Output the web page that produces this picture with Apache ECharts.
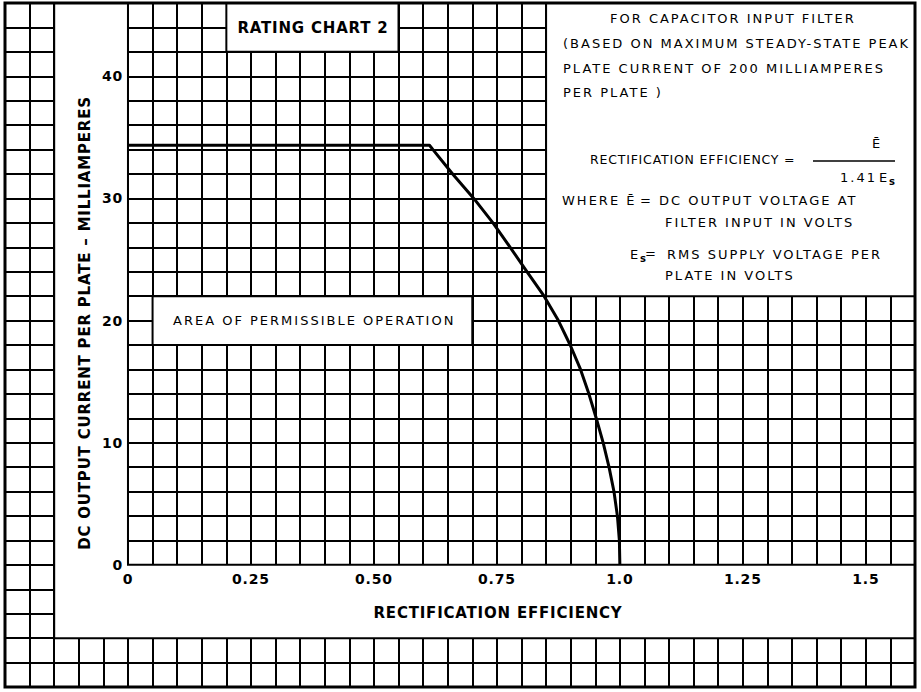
<!DOCTYPE html>
<html><head><meta charset="utf-8">
<script src="https://cdn.jsdelivr.net/npm/echarts@6.0.0/dist/echarts.min.js"></script>
<style>
html,body{margin:0;padding:0;background:#fff}
#c{width:921px;height:692px}
#c text[style*="bold"]{letter-spacing:0.8px}
#c text:not([style*="bold"]){letter-spacing:2px}
#c text[style*="12.5px"]{letter-spacing:0.8px}
</style>
</head><body><div id="c"></div>
<script>
// Curve: rectification efficiency vs DC output current per plate (mA)
const efficiency = [0, 0.613, 0.620, 0.660, 0.703, 0.742, 0.777, 0.811, 0.846, 0.875, 0.899, 0.920, 0.937, 0.952, 0.966, 0.978, 0.988, 0.995, 0.999, 1.000];
const currentMa  = [34.35, 34.35, 34, 32, 30, 28, 26, 24, 22, 20, 18, 16, 14, 12, 10, 8, 6, 4, 2, 0];
// Tick labels
const xTickValues = [0, 0.25, 0.5, 0.75, 1.0, 1.25, 1.5];
const xTickLabels = ['0', '0.25', '0.50', '0.75', '1.0', '1.25', '1.5'];
const yTickValues = [0, 10, 20, 30, 40];
const yTickLabels = ['0', '10', '20', '30', '40'];
// White panels that hide the graph paper (data coordinates)
const panels = [
  [[-0.15, 46], [0, 46], [0, 0], [1.6, 0], [1.6, -6], [-0.15, -6]],
  [[0.20, 46], [0.55, 46], [0.55, 42], [0.20, 42]],
  [[0.85, 46], [1.6, 46], [1.6, 22], [0.85, 22]],
  [[0.05, 22], [0.70, 22], [0.70, 18], [0.05, 18]]
];

const W = 921, H = 692;
const G = {left: 5, right: 6, top: 3, bottom: 5};
const XMIN = -0.25, XMAX = 1.6, YMIN = -10, YMAX = 46;
const gw = W - G.left - G.right, gh = H - G.top - G.bottom;
const x0px = G.left + (0 - XMIN) / (XMAX - XMIN) * gw;
const y0px = G.top + (YMAX - 0) / (YMAX - YMIN) * gh;

const chart = echarts.init(document.getElementById('c'), null, {renderer: 'svg', width: W, height: H});

const FONT_R = '13px "DejaVu Sans"';
const FONT_B = 'bold 15px "DejaVu Sans"';
const FONT_SUB = 'bold 10px "DejaVu Sans"';
function txt(text, x, y, align, font, extra) {
  return Object.assign({
    type: 'text', x: x, y: y, z: 100,
    style: {text: text, font: font || FONT_R, fill: '#000', textAlign: align || 'left', textVerticalAlign: 'middle', verticalAlign: 'middle'}
  }, extra || {});
}
const lineFmt = {
  x: function (v) { for (let i = 0; i < xTickValues.length; i++) if (Math.abs(v - xTickValues[i]) < 1e-6) return xTickLabels[i]; return ''; },
  y: function (v) { for (let i = 0; i < yTickValues.length; i++) if (Math.abs(v - yTickValues[i]) < 1e-6) return yTickLabels[i]; return ''; }
};

chart.setOption({
  animation: false,
  backgroundColor: '#fff',
  grid: [
    {left: G.left, right: G.right, top: G.top, bottom: G.bottom, containLabel: false, outerBoundsMode: 'none'},
    {left: x0px, right: G.right, top: G.top, bottom: H - y0px, containLabel: false, outerBoundsMode: 'none'}
  ],
  xAxis: [
    {gridIndex: 0, type: 'value', min: XMIN, max: XMAX, interval: 0.05,
     axisLine: {show: false}, axisTick: {show: false}, axisLabel: {show: false},
     splitLine: {show: true, lineStyle: {color: '#000', width: 2}}},
    {gridIndex: 1, type: 'value', min: 0, max: 1.6, interval: 0.25, z: 10,
     axisLine: {show: false}, axisTick: {show: false}, splitLine: {show: false},
     axisLabel: {show: true, formatter: lineFmt.x, color: '#000', fontFamily: 'DejaVu Sans', fontWeight: 'bold', fontSize: 14, margin: 7}}
  ],
  yAxis: [
    {gridIndex: 0, type: 'value', min: YMIN, max: YMAX, interval: 2,
     axisLine: {show: false}, axisTick: {show: false}, axisLabel: {show: false},
     splitLine: {show: true, lineStyle: {color: '#000', width: 2}}},
    {gridIndex: 1, type: 'value', min: 0, max: 46, interval: 10, z: 10,
     axisLine: {show: false}, axisTick: {show: false}, splitLine: {show: false},
     axisLabel: {show: true, formatter: lineFmt.y, color: '#000', fontFamily: 'DejaVu Sans', fontWeight: 'bold', fontSize: 14, margin: 5}}
  ],
  series: [
    {
      type: 'custom', xAxisIndex: 0, yAxisIndex: 0, z: 2, silent: true,
      data: panels.map(function () { return [0.5, 10]; }),
      renderItem: function (params, api) {
        const pts = panels[params.dataIndex].map(function (p) { return api.coord(p); });
        return {type: 'polygon', shape: {points: pts}, style: {fill: '#fff', stroke: '#000', lineWidth: 2}};
      }
    },
    {
      type: 'line', xAxisIndex: 0, yAxisIndex: 0, z: 5, silent: true,
      data: efficiency.map(function (x, i) { return [x, currentMa[i]]; }),
      symbol: 'none', smooth: false,
      lineStyle: {color: '#000', width: 3, join: 'round'}
    }
  ],
  graphic: [
    {type: 'rect', z: 100, shape: {x: G.left, y: G.top, width: gw, height: gh}, style: {fill: 'none', stroke: '#000', lineWidth: 3}},
    txt('RATING CHART 2', 313, 28, 'center', FONT_B),
    txt('FOR CAPACITOR INPUT FILTER', 610, 18),
    txt('(BASED ON MAXIMUM STEADY-STATE PEAK', 563, 43),
    txt('PLATE CURRENT OF 200 MILLIAMPERES', 563, 68),
    txt('PER PLATE )', 563, 92),
    txt('\u0112', 877, 143, 'center'),
    txt('RECTIFICATION EFFICIENCY =', 590, 159, 'left', '12.5px "DejaVu Sans"'),
    {type: 'line', z: 100, shape: {x1: 813, y1: 161, x2: 895, y2: 161}, style: {stroke: '#000', lineWidth: 1.5}},
    txt('1.41', 840, 177),
    txt('E', 879, 177),
    txt('s', 889, 181, 'left', FONT_SUB),
    txt('WHERE \u0112', 562, 200),
    txt('=', 640, 200),
    txt('DC OUTPUT VOLTAGE AT', 659, 200),
    txt('FILTER INPUT IN VOLTS', 665, 222),
    txt('E', 630, 254),
    txt('s', 640, 258, 'left', FONT_SUB),
    txt('=', 645, 253),
    txt('RMS SUPPLY VOLTAGE PER', 667, 254),
    txt('PLATE IN VOLTS', 665, 275),
    txt('AREA OF PERMISSIBLE OPERATION', 173, 320),
    txt('RECTIFICATION EFFICIENCY', 498, 613, 'center', FONT_B),
    txt('DC OUTPUT CURRENT PER PLATE \u2013 MILLIAMPERES', 85, 323, 'center', FONT_B, {rotation: Math.PI / 2})
  ]
});
</script>
</body></html>
